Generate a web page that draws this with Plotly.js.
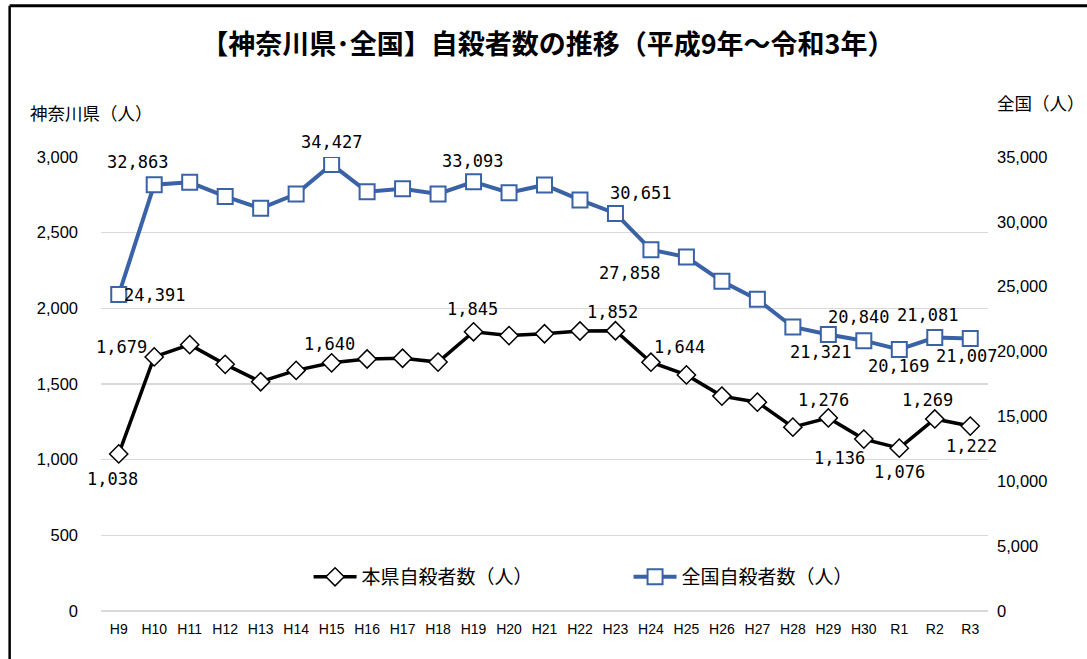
<!DOCTYPE html>
<html>
<head>
<meta charset="utf-8">
<script src="https://cdn.plot.ly/plotly-3.0.1.min.js"></script>
<style>
html,body{margin:0;padding:0;background:#fff;}
#chart{width:1087px;height:659px;}
</style>
</head>
<body>
<div id="chart"></div>
<script>
// ---- data ----
const years = ['H9','H10','H11','H12','H13','H14','H15','H16','H17','H18','H19','H20','H21','H22','H23','H24','H25','H26','H27','H28','H29','H30','R1','R2','R3'];
const kanagawa = [1038,1679,1760,1630,1515,1590,1640,1665,1670,1645,1845,1820,1832,1850,1852,1644,1560,1420,1380,1215,1276,1136,1076,1269,1222];
const national = [24391,32863,33048,31957,31042,32143,34427,32325,32552,32155,33093,32249,32845,31690,30651,27858,27283,25427,24025,21897,21321,20840,20169,21081,21007];
const leftTicks = [0,500,1000,1500,2000,2500,3000];
const rightTicks = [0,5000,10000,15000,20000,25000,30000,35000];
const nameK = '本県自殺者数（人）';
const nameN = '全国自殺者数（人）';
const titleText = '【神奈川県･全国】自殺者数の推移（平成9年～令和3年）';
const leftTitle = '神奈川県（人）';
const rightTitle = '全国（人）';

// ---- label placement (which points are labelled, pixel offsets) ----
const labelsK = [[0,-6,25],[1,-33,-10],[6,-2,-19],[10,-1,-23],[14,-3,-19],[15,29,-15],[20,-5,-18],[21,-24,19],[22,0,24],[23,-7,-19],[24,1,20]];
const labelsN = [[0,36,0],[1,-17,-23],[6,0,-22],[10,-1,-21],[14,25,-20],[15,-21,23],[20,-8,18],[21,-5,-24],[22,-1,17],[23,-7,-23],[24,-4,17]];

const fmt = v => v.toLocaleString('en-US');
const labelFont = {family:'DejaVu Sans Mono, monospace', size:17, color:'#000'};
const cjk = 'Noto Sans CJK JP, sans-serif';
const blue = '#3A62A6';

const traces = [
  {x: years, y: kanagawa, name: nameK, type:'scatter', mode:'lines+markers', yaxis:'y',
   line:{color:'#000', width:3.5},
   marker:{symbol:'diamond', size:14, color:'#fff', line:{color:'#000', width:1.5}}},
  {x: years, y: national, name: nameN, type:'scatter', mode:'lines+markers', yaxis:'y2',
   line:{color:blue, width:4},
   marker:{symbol:'square', size:15, color:'#fff', line:{color:blue, width:2}}}
];

const annotations = [];
labelsK.forEach(([i,dx,dy]) => annotations.push({x: years[i], y: kanagawa[i], xref:'x', yref:'y', text: fmt(kanagawa[i]), showarrow:false, xshift:dx, yshift:-dy, font:labelFont}));
labelsN.forEach(([i,dx,dy]) => annotations.push({x: years[i], y: national[i], xref:'x', yref:'y2', text: fmt(national[i]), showarrow:false, xshift:dx, yshift:-dy, font:labelFont}));
annotations.push({text:leftTitle, xref:'paper', yref:'paper', x:-0.0823, y:1.097, xanchor:'left', yanchor:'middle', showarrow:false, font:{family:cjk, size:17.5, color:'#000'}});
annotations.push({text:rightTitle, xref:'paper', yref:'paper', x:1.112, y:1.119, xanchor:'right', yanchor:'middle', showarrow:false, font:{family:cjk, size:17.5, color:'#000'}});

const layout = {
  width:1087, height:659,
  margin:{l:101, r:99, t:157, b:48},
  paper_bgcolor:'#fff', plot_bgcolor:'#fff',
  title:{text:titleText, x:0.504, xanchor:'center', y:0.932, yanchor:'middle', yref:'container',
         font:{family:cjk, size:27, color:'#000', weight:'bold'}},
  showlegend:true,
  legend:{orientation:'h', x:0.234, xanchor:'left', y:0.075, yanchor:'middle',
          font:{family:cjk, size:19, color:'#000'}, bgcolor:'rgba(0,0,0,0)',
          itemwidth:43, entrywidth:262, entrywidthmode:'pixels'},
  xaxis:{type:'category', range:[-0.5, 24.5], autorange:false, showgrid:false, zeroline:false, showline:false, ticks:'',
         tickfont:{family:'Liberation Sans, sans-serif', size:14, color:'#000'}, ticklabelstandoff:8, fixedrange:true},
  yaxis:{range:[0,3000], tickvals:leftTicks, ticktext:leftTicks.map(fmt), showgrid:true, gridcolor:'#d9d9d9', gridwidth:1.5,
         zeroline:true, zerolinecolor:'#d9d9d9', zerolinewidth:1.5, showline:false, ticks:'',
         tickfont:{family:'Liberation Sans, sans-serif', size:16.5, color:'#000'}, ticklabelstandoff:22},
  yaxis2:{range:[0,35000], tickvals:rightTicks, ticktext:rightTicks.map(fmt), overlaying:'y', side:'right', showgrid:false,
          zeroline:false, showline:false, ticks:'',
          tickfont:{family:'Liberation Sans, sans-serif', size:16.5, color:'#000'}, ticklabelstandoff:8},
  annotations: annotations,
  shapes:[
    {type:'line', xref:'paper', yref:'paper', x0:-0.103, x1:1.2, y0:1.333, y1:1.333, line:{color:'#000', width:3}},
    {type:'line', xref:'paper', yref:'paper', x0:-0.103, x1:-0.103, y0:1.333, y1:-0.2, line:{color:'#000', width:2.5}}
  ]
};

Plotly.newPlot('chart', traces, layout, {displayModeBar:false, staticPlot:true});
</script>
</body>
</html>
